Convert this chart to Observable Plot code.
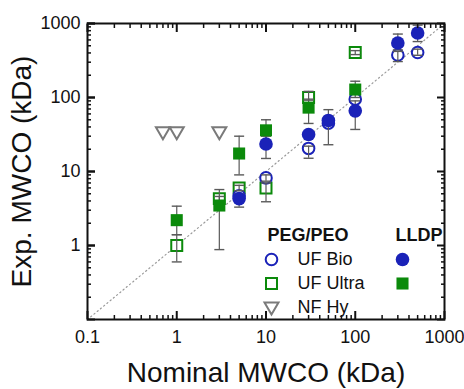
<!DOCTYPE html>
<html>
<head>
<meta charset="utf-8">
<script src="https://cdn.jsdelivr.net/npm/d3@7"></script>
<script src="https://cdn.jsdelivr.net/npm/@observablehq/plot@0.6"></script>
<style>
  html, body { margin: 0; padding: 0; background: #fff; }
  #chart { width: 464px; height: 389px; }
</style>
</head>
<body>
<div id="chart"></div>
<script>
// ---- data (nominal MWCO, experimental MWCO, error bar low/high) ----
const ufBioX  = [5, 10, 30, 50, 100, 300, 500];
const ufBioY  = [4.7, 8.2, 20.5, 45, 95, 375, 405];
const ufBioLo = [null, 7.4, 15.1, null, null, 306, 372];
const ufBioHi = [null, 9.0, 22, null, null, 420, 450];

const lldpBioX  = [5, 10, 30, 50, 100, 300, 500];
const lldpBioY  = [4.3, 23.5, 31.6, 49, 66, 545, 745];
const lldpBioLo = [3.3, 15, null, 23, 37, 440, 570];
const lldpBioHi = [5.0, 30, null, 68.5, 90, 720, 950];

const ufUltraX  = [1, 3, 5, 10, 30, 100];
const ufUltraY  = [1.0, 4.3, 6.0, 6.0, 100, 405];
const ufUltraLo = [0.6, 4.0, 5.5, 3.9, 92, 380];
const ufUltraHi = [1.4, 4.6, 6.5, 7.0, 121, 430];

const lldpUltraX  = [1, 3, 5, 10, 30, 100];
const lldpUltraY  = [2.2, 3.47, 17.5, 36, 73, 128];
const lldpUltraLo = [1.4, 0.88, 9, 25, 44.6, 100];
const lldpUltraHi = [3.4, 5.7, 30, 50, 95, 166];

const nfHyX = [0.7, 1, 3];
const nfHyY = [34, 34, 34];

const xTicks = [0.1, 1, 10, 100, 1000];
const xTickLabels = ["0.1", "1", "10", "100", "1000"];
const yTicks = [1, 10, 100, 1000];
const yTickLabels = ["1", "10", "100", "1000"];
const majorTicks = [0.1, 1, 10, 100, 1000];
const diagonal = [0.1, 1000];

const xTitle = "Nominal MWCO (kDa)";
const yTitle = "Exp. MWCO (kDa)";
const legendHeadA = "PEG/PEO";
const legendHeadB = "LLDP";
const legendNames = ["UF Bio", "UF Ultra", "NF Hy"];

// ---- build tables ----
const pts = (xs, ys) => xs.map((x, i) => ({x, y: ys[i]}));
const errs = (xs, ys, lo, hi) => xs.map((x, i) => ({x, y: ys[i], lo: lo[i], hi: hi[i]})).filter(d => d.lo != null);
const errors = [
  ...errs(ufBioX, ufBioY, ufBioLo, ufBioHi),
  ...errs(lldpBioX, lldpBioY, lldpBioLo, lldpBioHi),
  ...errs(ufUltraX, ufUltraY, ufUltraLo, ufUltraHi),
  ...errs(lldpUltraX, lldpUltraY, lldpUltraLo, lldpUltraHi)
];
const caps = errors.flatMap(d => [{x: d.x, y: d.lo}, {x: d.x, y: d.hi}]);

const minorTicks = [];
for (const base of [0.1, 1, 10, 100]) for (let k = 2; k <= 9; k++) minorTicks.push(+(base * k).toPrecision(3));

const BLUE = "#1a22b8", GREEN = "#0b8a0b", GREY = "#7a7a7a", ERR = "#5a5a5a";
const FONT = "'Liberation Sans', Arial, Helvetica, sans-serif";

const capSymbol = {draw(ctx) { ctx.moveTo(-5, 0); ctx.lineTo(5, 0); }};
const downTri = {draw(ctx) { ctx.moveTo(-7, -5); ctx.lineTo(7, -5); ctx.lineTo(0, 7); ctx.closePath(); }};

const xfmt = d => xTickLabels[xTicks.indexOf(d)] ?? "";
const yfmt = d => yTickLabels[yTicks.indexOf(d)] ?? "";
const blank = () => "";

const chart = Plot.plot({
  width: 464, height: 389,
  marginLeft: 87, marginRight: 20, marginTop: 23, marginBottom: 70,
  x: {type: "log", domain: [0.1, 1000], label: null},
  y: {type: "log", domain: [0.1, 1000], label: null},
  style: {fontFamily: FONT, background: "white", color: "#111", overflow: "visible"},
  marks: [
    // identity line
    Plot.line(diagonal, {x: d => d, y: d => d, stroke: "#9a9a9a", strokeWidth: 1.2, strokeDasharray: "1.2,3"}),
    // open markers (white fill)
    Plot.dot(pts(ufUltraX, ufUltraY), {x: "x", y: "y", symbol: "square", r: 6.2, fill: "white", stroke: GREEN, strokeWidth: 2}),
    Plot.dot(pts(ufBioX, ufBioY), {x: "x", y: "y", symbol: "circle", r: 5.8, fill: "white", stroke: BLUE, strokeWidth: 2}),
    // error bars
    Plot.ruleX(errors, {x: "x", y1: "lo", y2: "hi", stroke: ERR, strokeWidth: 1.2}),
    Plot.dot(caps, {x: "x", y: "y", symbol: capSymbol, fill: "none", stroke: ERR, strokeWidth: 1.4}),
    // filled markers
    Plot.dot(pts(lldpUltraX, lldpUltraY), {x: "x", y: "y", symbol: "square", r: 6.8, fill: GREEN, stroke: "none"}),
    Plot.dot(pts(lldpBioX, lldpBioY), {x: "x", y: "y", symbol: "circle", r: 6.8, fill: BLUE, stroke: "none"}),
    // NF Hy
    Plot.dot(pts(nfHyX, nfHyY), {x: "x", y: "y", symbol: downTri, fill: "white", stroke: GREY, strokeWidth: 2}),

    // axes
    Plot.axisX({ticks: xTicks, anchor: "bottom", tickSize: -8, tickPadding: 19, tickFormat: xfmt, fontSize: 18, strokeWidth: 2, label: null}),
    Plot.axisX({ticks: minorTicks, anchor: "bottom", tickSize: -4, tickFormat: blank, strokeWidth: 1.5, label: null}),
    Plot.axisX({ticks: majorTicks, anchor: "top", tickSize: -8, tickFormat: blank, strokeWidth: 2, label: null}),
    Plot.axisX({ticks: minorTicks, anchor: "top", tickSize: -4, tickFormat: blank, strokeWidth: 1.5, label: null}),
    Plot.axisY({ticks: yTicks, anchor: "left", tickSize: -8, tickPadding: 15, tickFormat: yfmt, fontSize: 18, strokeWidth: 2, label: null}),
    Plot.axisY({ticks: majorTicks, anchor: "left", tickSize: -8, tickFormat: blank, strokeWidth: 2, label: null}),
    Plot.axisY({ticks: minorTicks, anchor: "left", tickSize: -4, tickFormat: blank, strokeWidth: 1.5, label: null}),
    Plot.axisY({ticks: majorTicks, anchor: "right", tickSize: -8, tickFormat: blank, strokeWidth: 2, label: null}),
    Plot.axisY({ticks: minorTicks, anchor: "right", tickSize: -4, tickFormat: blank, strokeWidth: 1.5, label: null}),
    Plot.frame({stroke: "#111", strokeWidth: 2}),

    // axis titles
    Plot.text([yTitle], {frameAnchor: "left", rotate: -90, dx: -65, textAnchor: "middle", lineAnchor: "middle", fontSize: 28, fill: "#111"}),
    Plot.text([xTitle], {frameAnchor: "bottom", dy: 54, textAnchor: "middle", lineAnchor: "middle", fontSize: 28, fill: "#111"}),

    // legend
    Plot.text([legendHeadA], {frameAnchor: "top-left", dx: 180, dy: 212, textAnchor: "start", lineAnchor: "middle", fontSize: 18, fontWeight: "bold", fill: "#111"}),
    Plot.text([legendHeadB], {frameAnchor: "top-left", dx: 308, dy: 212, textAnchor: "start", lineAnchor: "middle", fontSize: 18, fontWeight: "bold", fill: "#111"}),
    Plot.dot([legendNames[0]], {frameAnchor: "top-left", dx: 184, dy: 236, symbol: "circle", r: 5.8, fill: "white", stroke: BLUE, strokeWidth: 2}),
    Plot.dot([legendNames[1]], {frameAnchor: "top-left", dx: 184, dy: 260, symbol: "square", r: 6.2, fill: "white", stroke: GREEN, strokeWidth: 2}),
    Plot.dot([legendNames[2]], {frameAnchor: "top-left", dx: 184, dy: 284, symbol: downTri, fill: "white", stroke: GREY, strokeWidth: 2}),
    Plot.text([legendNames[0]], {frameAnchor: "top-left", dx: 210, dy: 236, textAnchor: "start", lineAnchor: "middle", fontSize: 18, fill: "#111"}),
    Plot.text([legendNames[1]], {frameAnchor: "top-left", dx: 210, dy: 260, textAnchor: "start", lineAnchor: "middle", fontSize: 18, fill: "#111"}),
    Plot.text([legendNames[2]], {frameAnchor: "top-left", dx: 210, dy: 284, textAnchor: "start", lineAnchor: "middle", fontSize: 18, fill: "#111"}),
    Plot.dot([legendHeadB], {frameAnchor: "top-left", dx: 315, dy: 236, symbol: "circle", r: 6.8, fill: BLUE, stroke: "none"}),
    Plot.dot([legendHeadB], {frameAnchor: "top-left", dx: 315, dy: 260, symbol: "square", r: 6.8, fill: GREEN, stroke: "none"})
  ]
});
document.getElementById("chart").appendChild(chart);
</script>
</body>
</html>
